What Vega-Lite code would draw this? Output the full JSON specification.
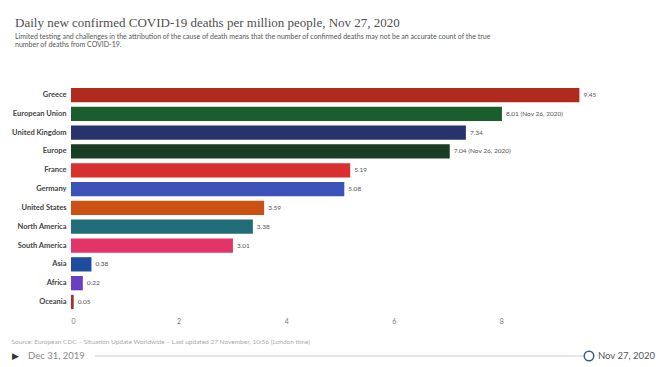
{
  "$schema": "https://vega.github.io/schema/vega-lite/v6.json",
  "background": "white",
  "padding": {"left": 11, "top": 17, "right": 5, "bottom": 0},
  "config": {
    "font": "Lato",
    "view": {"stroke": null},
    "concat": {"spacing": 3}
  },
  "title": {
    "text": "Daily new confirmed COVID-19 deaths per million people, Nov 27, 2020",
    "subtitle": [
      "Limited testing and challenges in the attribution of the cause of death means that the number of confirmed deaths may not be an accurate count of the true",
      "number of deaths from COVID-19."
    ],
    "anchor": "start",
    "font": "Liberation Serif",
    "fontSize": 13,
    "fontWeight": "normal",
    "color": "#4f4f4f",
    "subtitleFont": "Lato",
    "subtitleFontSize": 7,
    "subtitleColor": "#555555",
    "subtitlePadding": 3,
    "subtitleLineHeight": 8,
    "offset": 38,
    "dx": 4
  },
  "datasets": {
    "bars": [
      {"entity": "Greece", "value": 9.45, "label": "9.45", "color": "#b02b1e"},
      {"entity": "European Union", "value": 8.01, "label": "8.01 (Nov 26, 2020)", "color": "#1b5e2e"},
      {"entity": "United Kingdom", "value": 7.34, "label": "7.34", "color": "#26336e"},
      {"entity": "Europe", "value": 7.04, "label": "7.04 (Nov 26, 2020)", "color": "#173d22"},
      {"entity": "France", "value": 5.19, "label": "5.19", "color": "#d8302e"},
      {"entity": "Germany", "value": 5.08, "label": "5.08", "color": "#3c52b8"},
      {"entity": "United States", "value": 3.59, "label": "3.59", "color": "#cc5214"},
      {"entity": "North America", "value": 3.38, "label": "3.38", "color": "#206c78"},
      {"entity": "South America", "value": 3.01, "label": "3.01", "color": "#e23468"},
      {"entity": "Asia", "value": 0.38, "label": "0.38", "color": "#1f4d9e"},
      {"entity": "Africa", "value": 0.22, "label": "0.22", "color": "#6a40c2"},
      {"entity": "Oceania", "value": 0.05, "label": "0.05", "color": "#a3322c"}
    ],
    "timeline": [
      {"date": "2019-12-31", "label": "Dec 31, 2019"},
      {"date": "2020-11-27", "label": "Nov 27, 2020"}
    ]
  },
  "vconcat": [
    {
      "width": 538,
      "height": 225,
      "data": {"name": "bars"},
      "encoding": {
        "y": {
          "field": "entity",
          "type": "nominal",
          "sort": null,
          "scale": {"paddingInner": 0.24, "paddingOuter": 0.1},
          "axis": {
            "title": null,
            "domain": false,
            "ticks": false,
            "labelFontSize": 7.5,
            "labelFontWeight": "bold",
            "labelColor": "#444444",
            "labelPadding": 5
          }
        },
        "x": {
          "field": "value",
          "type": "quantitative",
          "scale": {"domain": [0, 10]},
          "axis": {
            "values": [0, 2, 4, 6, 8],
            "domain": false,
            "ticks": false,
            "grid": false,
            "labelFontSize": 7,
            "labelColor": "#777777",
            "labelPadding": 6,
            "title": "Source: European CDC – Situation Update Worldwide – Last updated 27 November, 10:56 (London time)",
            "titleFontSize": 6.5,
            "titleFontWeight": "normal",
            "titleColor": "#aaaaaa",
            "titleAnchor": "start",
            "titleAlign": "left",
            "titleX": -60,
            "titleY": 27
          }
        }
      },
      "layer": [
        {
          "mark": {"type": "bar"},
          "encoding": {
            "color": {"field": "color", "type": "nominal", "scale": null}
          }
        },
        {
          "mark": {"type": "text", "align": "left", "dx": 4, "fontSize": 6.5, "color": "#555555"},
          "encoding": {"text": {"field": "label"}}
        }
      ]
    },
    {
      "width": 518,
      "height": 10,
      "data": {"name": "timeline"},
      "encoding": {
        "x": {"field": "date", "type": "temporal", "axis": null, "scale": {"domain": ["2019-12-15", "2020-11-27"]}},
        "y": {"value": 5}
      },
      "layer": [
        {
          "mark": {"type": "rule", "color": "#c5cbd6", "strokeWidth": 1},
          "encoding": {
            "x": {"aggregate": "min", "field": "date", "type": "temporal"},
            "x2": {"aggregate": "max", "field": "date"}
          }
        },
        {
          "transform": [{"filter": "datum.label == 'Nov 27, 2020'"}],
          "mark": {"type": "point", "size": 90, "filled": true, "fill": "white", "stroke": "#3d5a8a", "strokeWidth": 1.5, "opacity": 1}
        },
        {
          "transform": [{"filter": "datum.label == 'Nov 27, 2020'"}],
          "mark": {"type": "text", "align": "left", "dx": 9, "fontSize": 9.5, "color": "#555555"},
          "encoding": {"text": {"field": "label"}}
        },
        {
          "transform": [{"filter": "datum.label == 'Dec 31, 2019'"}],
          "mark": {"type": "text", "align": "right", "dx": -10, "fontSize": 9.5, "color": "#888888"},
          "encoding": {"text": {"field": "label"}}
        },
        {
          "transform": [{"filter": "datum.label == 'Dec 31, 2019'"}],
          "mark": {"type": "text", "align": "right", "dx": -76, "fontSize": 9, "color": "#333333"},
          "encoding": {"text": {"value": "▶"}}
        }
      ]
    }
  ]
}
